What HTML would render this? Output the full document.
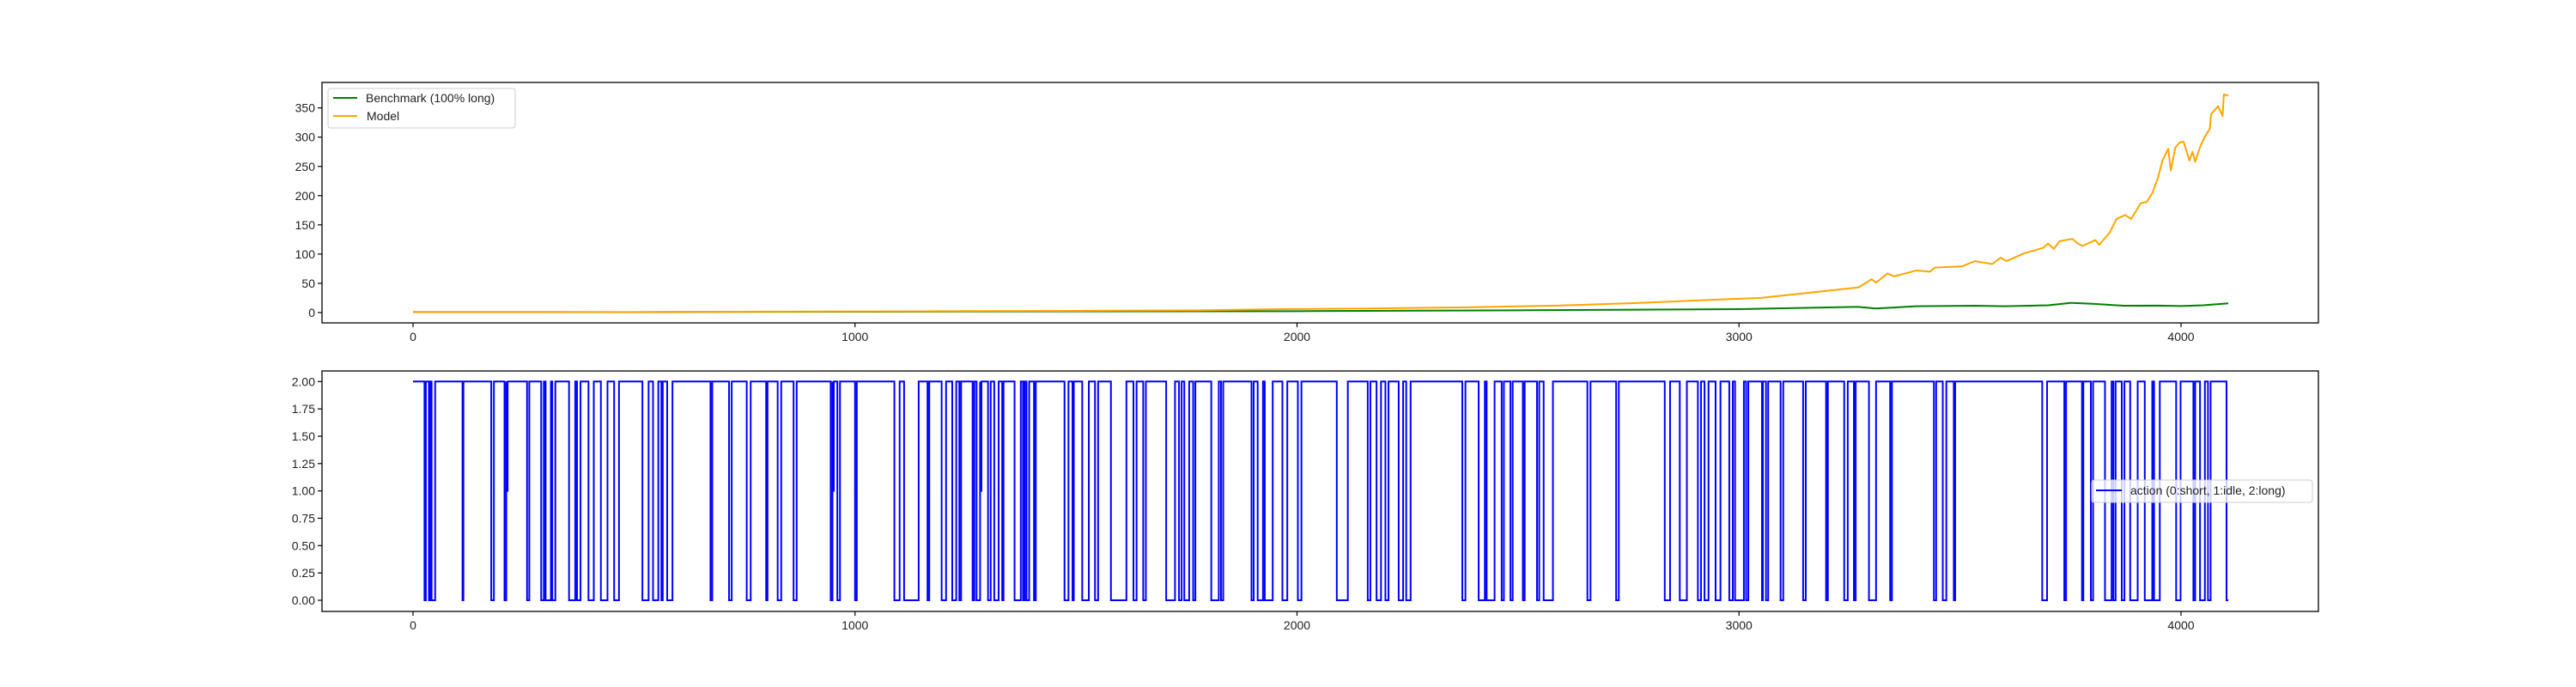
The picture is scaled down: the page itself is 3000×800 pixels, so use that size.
<!DOCTYPE html>
<html><head><meta charset="utf-8">
<style>
html,body{margin:0;padding:0;background:#fff;}
svg{display:block;font-family:"Liberation Sans","DejaVu Sans",sans-serif;}
</style></head>
<body>
<svg id="chart" width="3000" height="800" viewBox="0 0 3000 800" xmlns="http://www.w3.org/2000/svg">
<rect x="0" y="0" width="3000" height="800" fill="#fff"/>
<g id="top"></g>
<g id="bot"></g>
</svg>
<script>
// ---- data ----
const modelX = [0,500,1000,1500,1800,1980,2163,2386,2589,2792,2945,3047,3148,3270,3300,3310,3336,3351,3402,3432,3443,3504,3534,3573,3592,3605,3644,3689,3699,3712,3725,3754,3767,3777,3806,3815,3838,3854,3874,3887,3909,3922,3935,3948,3958,3971,3977,3987,3997,4006,4019,4026,4032,4045,4055,4065,4068,4084,4094,4097,4107];
const modelY = [1,1,2,3,4,6,7,9,12,17,22,25,33,43,57,51,67,62,72,70,77,79,88,83,94,88,101,111,118,109,122,126,118,114,124,116,136,160,167,160,187,189,204,231,260,280,243,282,291,292,260,275,258,287,302,314,339,353,336,373,371];
const benchX = [0,500,1000,1500,2000,2500,3000,3270,3310,3400,3534,3600,3700,3750,3800,3870,3950,4000,4050,4107];
const benchY = [1,0.8,1.5,2,2.4,3.9,5.9,9.8,6.9,10.8,11.7,10.8,12.5,16.6,15,11.7,12,11.2,12.5,15.7];
const actionLen = 4107;
const dipStart = [26,36,42,112,177,207,258,290,300,315,353,371,397,425,455,519,543,562,575,673,715,755,799,825,861,945,960,1000,1089,1111,1164,1196,1220,1236,1266,1275,1301,1315,1333,1361,1380,1388,1405,1474,1492,1514,1543,1579,1630,1652,1704,1733,1745,1765,1806,1828,1897,1911,1927,1967,2002,2090,2160,2180,2200,2230,2247,2374,2411,2429,2463,2483,2511,2543,2558,2657,2722,2832,2866,2907,2922,2947,2978,2991,3016,3052,3061,3094,3145,3197,3238,3260,3294,3342,3441,3461,3486,3686,3736,3776,3796,3828,3847,3866,3885,3918,3939,3989,4028,4043,4061,4103];
const dipEnd   = [29,39,50,114,183,211,263,296,312,322,367,379,409,440,466,533,555,565,587,677,721,764,802,833,868,949,966,1004,1101,1144,1168,1206,1229,1240,1270,1283,1307,1325,1336,1375,1384,1394,1409,1483,1495,1529,1550,1614,1637,1658,1724,1739,1756,1770,1823,1833,1902,1923,1945,1978,2010,2115,2166,2190,2207,2240,2257,2381,2425,2447,2468,2488,2515,2548,2579,2664,2728,2844,2882,2914,2931,2958,2986,3011,3021,3054,3066,3100,3151,3201,3246,3264,3310,3346,3446,3469,3489,3697,3740,3779,3801,3843,3852,3872,3902,3935,3952,3999,4032,4054,4067,4107];
const idleStart = [211,949,1283];
const idleEnd = [214,952,1286];
const xTicks = [0,1000,2000,3000,4000];
const topYTicks = [0,50,100,150,200,250,300,350];
const botYTicks = [0,0.25,0.5,0.75,1,1.25,1.5,1.75,2];
const botYLabels = ["0.00","0.25","0.50","0.75","1.00","1.25","1.50","1.75","2.00"];

// ---- axes ----
const NS="http://www.w3.org/2000/svg";
const AX={l:375,r:2700};
const xs = d => 481 + d*0.51475;
const yTop = v => 364 - v*0.681;
const yBot = v => 699 - v*127.35;
function mk(tag, attrs, parent){const e=document.createElementNS(NS,tag);for(const k in attrs)e.setAttribute(k,attrs[k]);parent.appendChild(e);return e;}

function axes(g, top, bottom, ticks, labels, yf, prefix){
  ticks.forEach((t,i)=>{
    const y=yf(t);
    const tk=mk('line',{x1:AX.l-5,x2:AX.l,y1:y,y2:y,stroke:'#000','stroke-width':1.2},g);
    
    
    const tx=mk('text',{x:AX.l-8,y:y+5,'font-size':14,'text-anchor':'end',fill:'#222'},g);
    tx.textContent=labels[i];
    
    
  });
  xTicks.forEach(t=>{
    const x=xs(t);
    const tk=mk('line',{x1:x,x2:x,y1:bottom,y2:bottom+5,stroke:'#000','stroke-width':1.2},g);
    
    
    const tx=mk('text',{x:x,y:bottom+21,'font-size':14,'text-anchor':'middle',fill:'#222'},g);
    tx.textContent=String(t);
    
    
  });
}
function frame(g, top, bottom, prefix){
  const f=mk('rect',{x:AX.l,y:top,width:AX.r-AX.l,height:bottom-top,fill:'none',stroke:'#000','stroke-width':1.3},g);
  
  
}

// ---- top panel ----
const gT=document.getElementById('top');
axes(gT,96,376,topYTicks,topYTicks.map(String),yTop,'top');
const bench=mk('polyline',{points:benchX.map((x,i)=>xs(x)+','+yTop(benchY[i])).join(' '),fill:'none',stroke:'green','stroke-width':2,'stroke-linejoin':'round'},gT);


const model=mk('polyline',{points:modelX.map((x,i)=>xs(x)+','+yTop(modelY[i])).join(' '),fill:'none',stroke:'orange','stroke-width':2,'stroke-linejoin':'round'},gT);


frame(gT,96,376,'top');
// legend
const lg=mk('g',{},gT);


mk('rect',{x:382,y:103,width:218,height:46,rx:3,fill:'#fff','fill-opacity':0.8,stroke:'#ccc','stroke-width':1},lg);
mk('line',{x1:388,x2:416,y1:114,y2:114,stroke:'green','stroke-width':2},lg);
const t1=mk('text',{x:426,y:119,'font-size':14,fill:'#222'},lg);t1.textContent='Benchmark (100% long)';


mk('line',{x1:388,x2:416,y1:135,y2:135,stroke:'orange','stroke-width':2},lg);
const t2=mk('text',{x:427,y:140,'font-size':14,fill:'#222'},lg);t2.textContent='Model';



// ---- bottom panel ----
const gB=document.getElementById('bot');
axes(gB,432,712,botYTicks,botYLabels,yBot,'bottom');
// build step series from segments
const segs=[];
dipStart.forEach((s,i)=>segs.push([s,dipEnd[i],0]));
idleStart.forEach((s,i)=>segs.push([s,idleEnd[i],1]));
segs.sort((a,b)=>a[0]-b[0]);
let pts=[[0,2]];let cur=0;
segs.forEach(([s,e,v])=>{
  if(s<cur) s=cur;
  pts.push([s,2],[s,v],[e,v]);
  if(e<actionLen) pts.push([e,2]);
  cur=e;
});
if(cur<actionLen) pts.push([actionLen,2]);
const act=mk('polyline',{points:pts.map(p=>xs(p[0])+','+yBot(p[1])).join(' '),fill:'none',stroke:'blue','stroke-width':2,'stroke-linejoin':'miter'},gB);


frame(gB,432,712,'bottom');
const lg2=mk('g',{},gB);


mk('rect',{x:2436,y:559,width:257,height:26,rx:3,fill:'#fff','fill-opacity':0.8,stroke:'#ccc','stroke-width':1},lg2);
mk('line',{x1:2441,x2:2471,y1:571,y2:571,stroke:'blue','stroke-width':2},lg2);
const t3=mk('text',{x:2481,y:576,'font-size':14,fill:'#222'},lg2);t3.textContent='action (0:short, 1:idle, 2:long)';


</script>
</body></html>
